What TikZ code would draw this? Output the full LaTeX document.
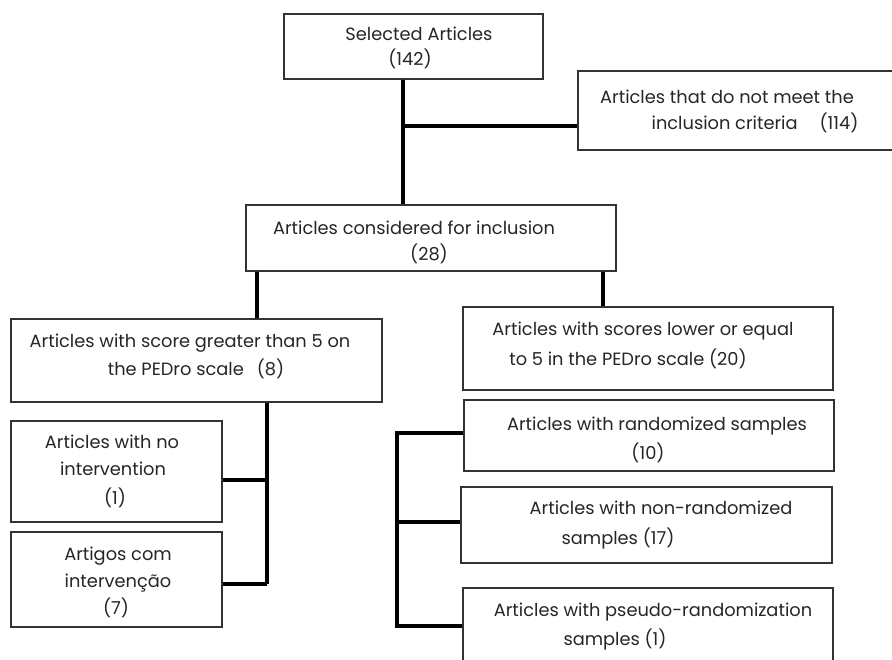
\documentclass[tikz,border=0pt]{standalone}
\usepackage{fontspec}
\setmainfont{Poppins}
\begin{document}
\begin{tikzpicture}[x=1pt,y=-1pt,
  box/.style={draw=black!80,line width=1.3pt,fill=white,inner sep=0pt,rectangle},
  conn/.style={line width=3.2pt,black},
  txt/.style={anchor=mid,inner sep=0pt,yshift=-5pt,font=\fontsize{17.8}{22}\selectfont,text=black!85}]
\useasboundingbox (0,0) rectangle (892,660);
\clip (0,0) rectangle (892,660);
% boxes
\node[box,minimum width=259pt,minimum height=65pt] (sel) at (413.5,46.5) {};
\node[box,minimum width=327pt,minimum height=79pt] (excl) at (741.5,110.5) {};
\node[box,minimum width=370pt,minimum height=66pt] (cons) at (431,238) {};
\node[box,minimum width=371pt,minimum height=83pt] (gt5) at (196.5,360.5) {};
\node[box,minimum width=370pt,minimum height=83pt] (le5) at (648,348.5) {};
\node[box,minimum width=211pt,minimum height=101pt] (noint) at (116.5,471.5) {};
\node[box,minimum width=211pt,minimum height=95pt] (artigos) at (116.5,579.5) {};
\node[box,minimum width=370pt,minimum height=71pt] (rand) at (649,435.5) {};
\node[box,minimum width=371pt,minimum height=76pt] (nonrand) at (646.5,525) {};
\node[box,minimum width=370pt,minimum height=92pt] (pseudo) at (648,634) {};
% texts
\node[txt] (t1a) at (419,33) {Selected Articles};
\node[txt] (t1b) at (410,58) {(142)};
\node[txt] (t2a) at (727,96) {Articles that do not meet the};
\node[txt] (t2b) at (755,122) {inclusion criteria\hspace{22pt}(114)};
\node[txt] (t3a) at (414,227) {Articles considered for inclusion};
\node[txt] (t3b) at (429,253) {(28)};
\node[txt] (t4a) at (190,340) {Articles with score greater than 5 on};
\node[txt] (t4b) at (196,368) {the PEDro scale\hspace{13pt}(8)};
\node[txt] (t5a) at (643,328) {Articles with scores lower or equal};
\node[txt] (t5b) at (628,358) {to 5 in the PEDro scale (20)};
\node[txt] (t6a) at (112,441) {Articles with no};
\node[txt] (t6b) at (113,468) {intervention};
\node[txt] (t6c) at (115,497) {(1)};
\node[txt] (t7a) at (118,553) {Artigos com};
\node[txt] (t7b) at (118,580) {intervenção};
\node[txt] (t7c) at (116,607) {(7)};
\node[txt] (t8a) at (657,423) {Articles with randomized samples};
\node[txt] (t8b) at (648,452) {(10)};
\node[txt] (t9a) at (661,507) {Articles with non-randomized};
\node[txt] (t9b) at (618,537) {samples (17)};
\node[txt] (t10a) at (653,609) {Articles with pseudo-randomization};
\node[txt] (t10b) at (615,638) {samples (1)};
% junction coordinates
\coordinate (c1) at (403,126);
\coordinate (c2) at (257,0);
\coordinate (c3) at (603,0);
\coordinate (c4) at (267,480);
\coordinate (c5) at (267,584);
\coordinate (b1) at (397,433);
\coordinate (b2) at (397,522);
\coordinate (b3) at (397,626);
% connectors
\draw[conn] (sel.south -| c1) -- (cons.north -| c1);
\draw[conn] (c1) -- (c1 -| excl.west);
\draw[conn] (cons.south -| c2) -- (gt5.north -| c2);
\draw[conn] (cons.south -| c3) -- (le5.north -| c3);
\draw[conn] (gt5.south -| c4) -- (c5);
\draw[conn] (c4) -- (c4 -| noint.east);
\draw[conn] (c5) -- (c5 -| artigos.east);
\draw[conn] (b1 -| rand.west) -- (b1) -- (b3) -- (b3 -| pseudo.west);
\draw[conn] (b2) -- (b2 -| nonrand.west);
\end{tikzpicture}
\end{document}
